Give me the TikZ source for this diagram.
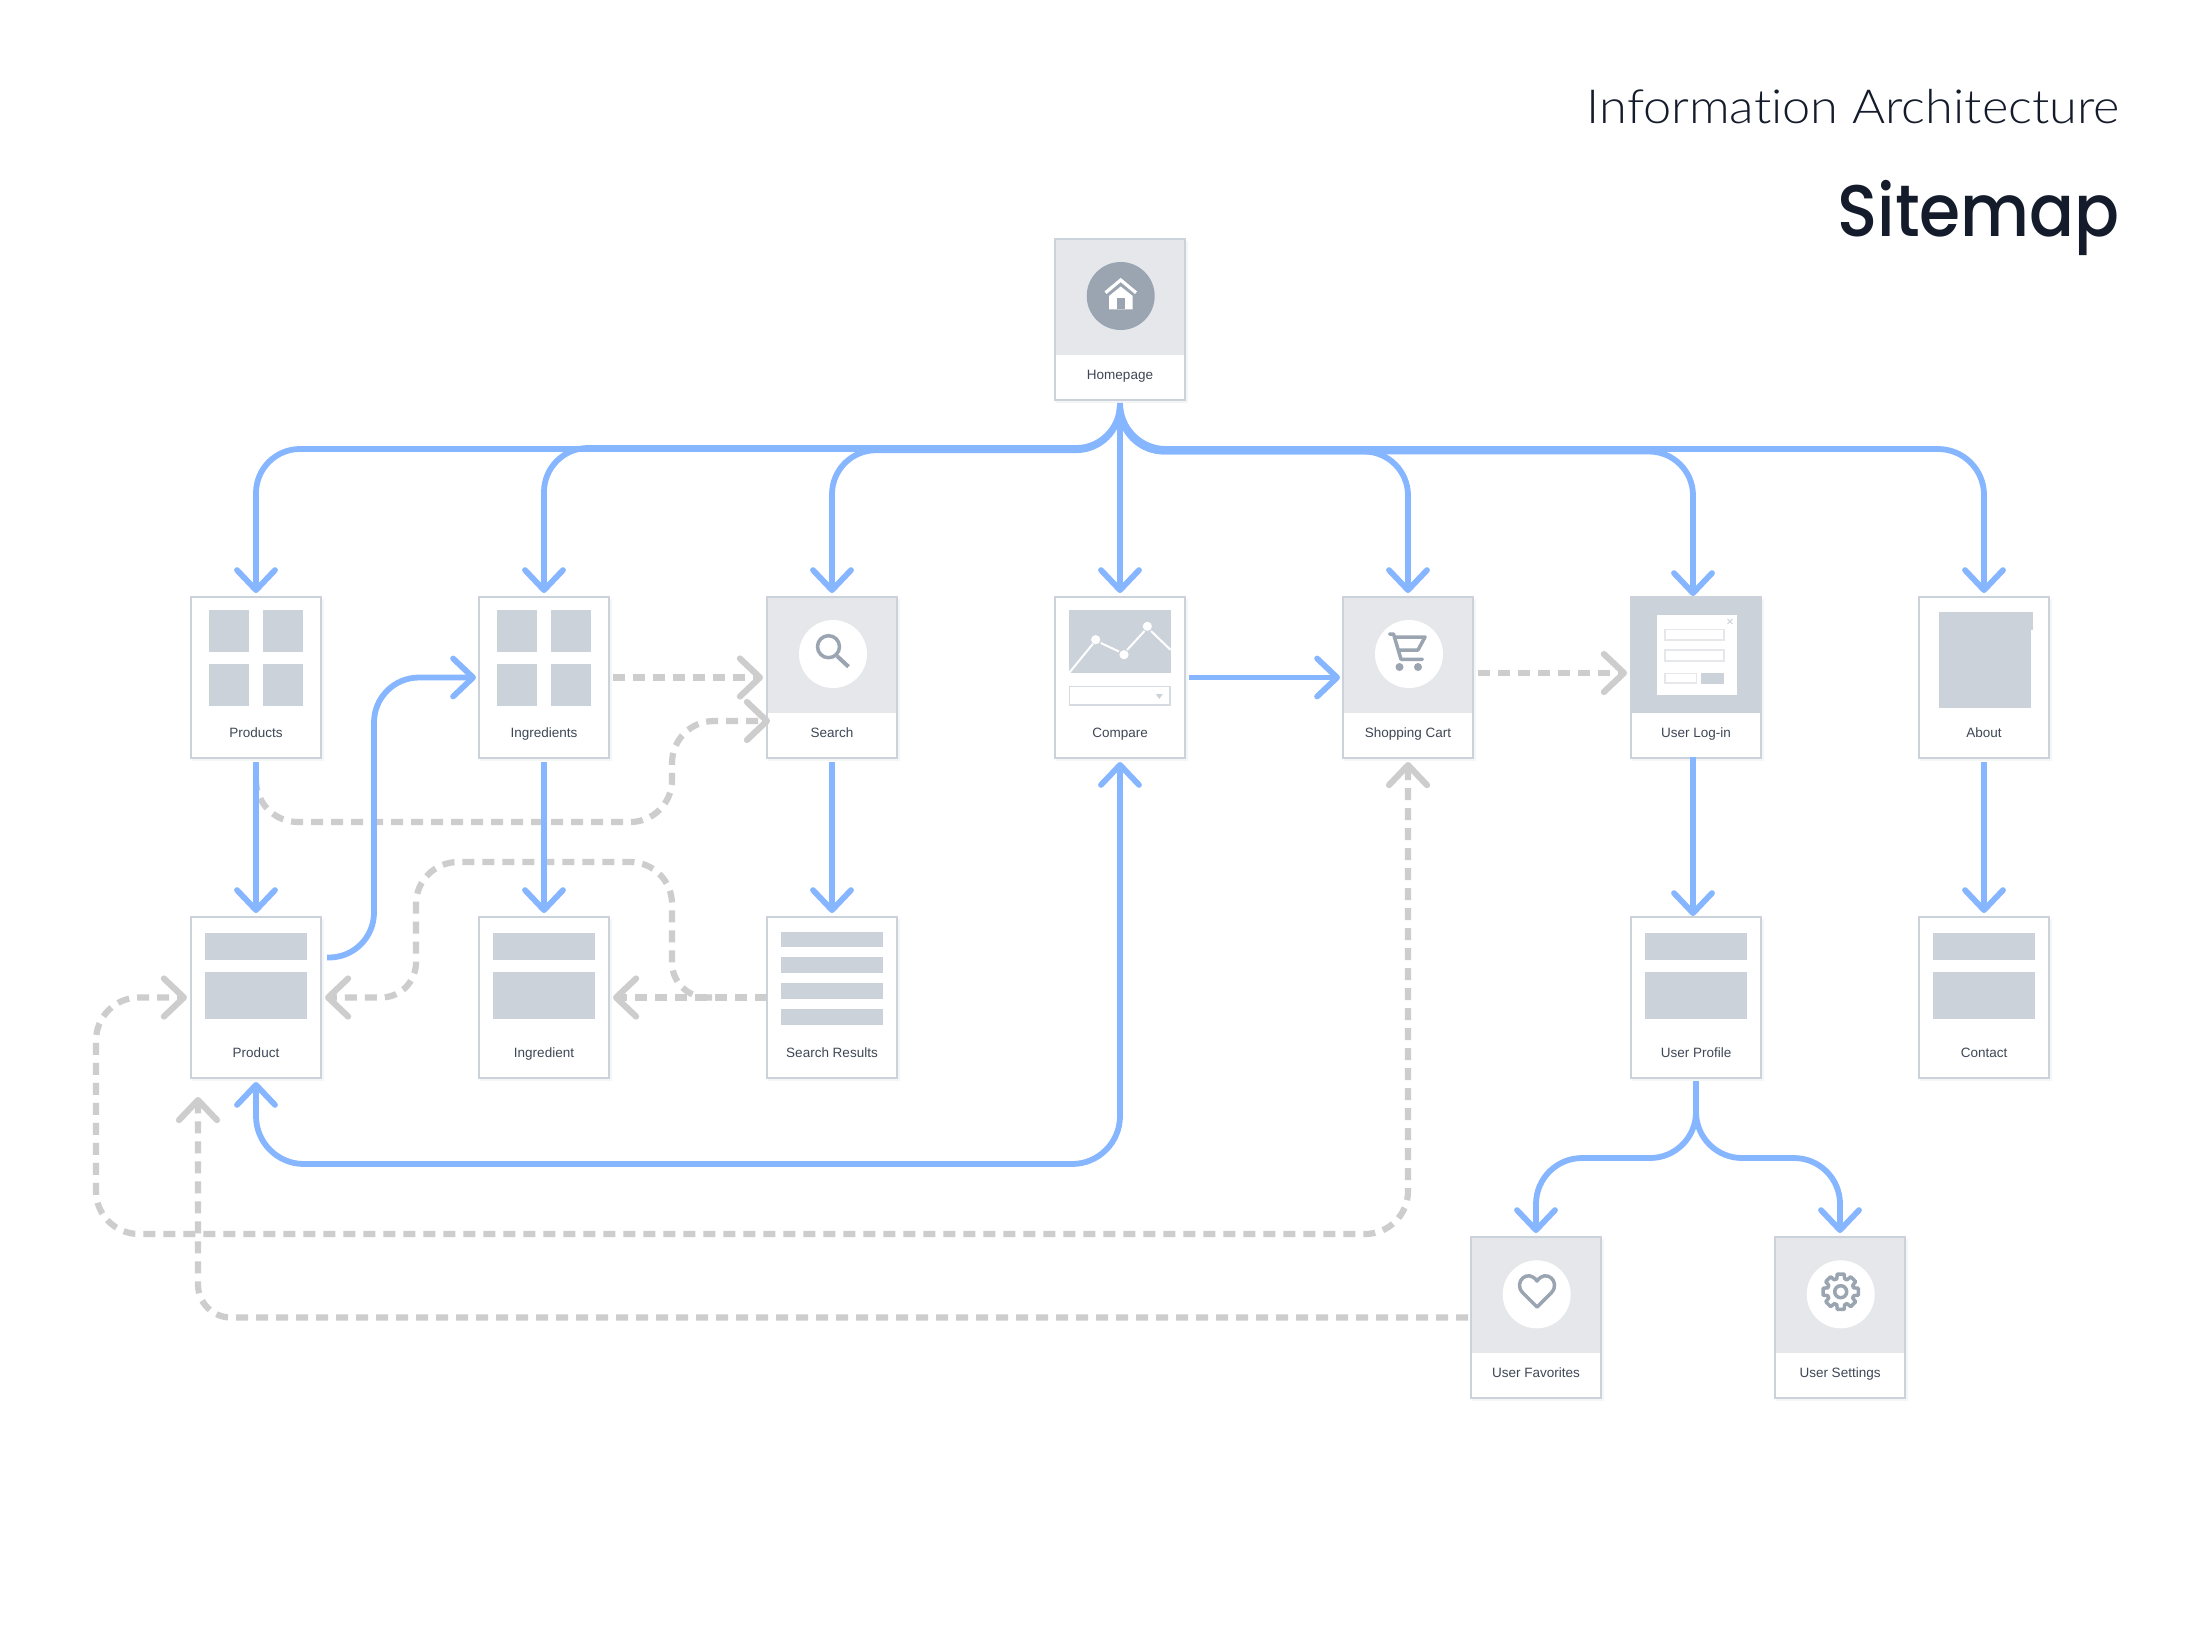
\documentclass[tikz,border=0pt]{standalone}
\usepackage{fontspec}
\setmainfont{Liberation Sans}
\newfontfamily\titlelight[FakeStretch=1.075,Ligatures=NoCommon]{Lato Light}
\newfontfamily\titlebold[FakeStretch=0.91]{Poppins Medium}
\usetikzlibrary{arrows.meta,calc}
\definecolor{cardline}{HTML}{CBD2DB}
\definecolor{headgrey}{HTML}{E5E7EB}
\definecolor{ph}{HTML}{CBD2DA}
\definecolor{iconc}{HTML}{9AA5B1}
\definecolor{flow}{HTML}{85B6FF}
\definecolor{alt}{HTML}{CDCDCD}
\definecolor{labelc}{HTML}{3E4756}
\definecolor{titlec}{HTML}{141B2B}
\tikzset{
  chev/.tip={Straight Barb[length=20pt,width=38pt,line width=5.8pt,round]},
  gchev/.tip={Straight Barb[length=20pt,width=38pt,line width=6.2pt,round]},
  cardbox/.style={draw=cardline,line width=2.5pt,fill=white,minimum width=130pt,minimum height=161pt,inner sep=0pt,outer sep=0pt},
  cardlabel/.style={anchor=base,text=labelc,font=\fontsize{13.5}{16}\selectfont,inner sep=0pt},
  bl/.style={draw=flow,line width=5.8pt},
  gr/.style={draw=alt,line width=6.2pt,dash pattern=on 12pt off 8pt},
  iconline/.style={draw=iconc,line width=3.5pt,line join=round},
  phbox/.style={fill=ph},
  inputbox/.style={draw=headgrey,line width=1.5pt,fill=white},
}
\newcommand{\card}[5]{%
  \fill[black,opacity=.04] (#2-64,#3+3) rectangle (#2+67.5,#3+164.5);
  \node[cardbox] (#1) at (#2,#3+81.5) {};
  \fill[#4] (#2-63.75,#3+2.25) rectangle (#2+63.75,#3+117);
  \node[cardlabel] (#1-t) at (#2,#3+141) {#5};
}
\newcommand{\fourgrid}[2]{%
  \fill[phbox] (#1-47.3,#2+14) rectangle (#1-7,#2+55.7);
  \fill[phbox] (#1+7,#2+14) rectangle (#1+47.3,#2+55.7);
  \fill[phbox] (#1-47.3,#2+68) rectangle (#1-7,#2+110);
  \fill[phbox] (#1+7,#2+68) rectangle (#1+47.3,#2+110);
}
\newcommand{\twobars}[2]{%
  \fill[phbox] (#1-51,#2+17) rectangle (#1+51,#2+44);
  \fill[phbox] (#1-51,#2+56) rectangle (#1+51,#2+103);
}
\begin{document}
\begin{tikzpicture}[x=1pt,y=-1pt]
\path[use as bounding box,fill=white] (0,0) rectangle (2200,1636);

\node[anchor=base east,text=titlec,inner sep=0pt,font=\titlelight\fontsize{47}{50}\selectfont] (t1) at (2120,123) {Information Architecture};
\node[anchor=base east,text=titlec,inner sep=0pt,font=\titlebold\fontsize{73}{76}\selectfont] (t2) at (2120,236) {Sitemap};

% cards
\card{home}{1120}{238}{headgrey}{Homepage}
\card{products}{256}{596}{white}{Products}
\card{ingredients}{544}{596}{white}{Ingredients}
\card{search}{832}{596}{headgrey}{Search}
\card{compare}{1120}{596}{white}{Compare}
\card{cart}{1408}{596}{headgrey}{Shopping Cart}
\card{login}{1696}{596}{ph}{User Log-in}
\card{about}{1984}{596}{white}{About}
\card{product}{256}{916}{white}{Product}
\card{ingredient}{544}{916}{white}{Ingredient}
\card{results}{832}{916}{white}{Search Results}
\card{profile}{1696}{916}{white}{User Profile}
\card{contact}{1984}{916}{white}{Contact}
\card{favorites}{1536}{1236}{headgrey}{User Favorites}
\card{settings}{1840}{1236}{headgrey}{User Settings}

% card artwork
\fill[iconc] (1120.7,296) circle (34);
\draw[white,line width=3.2pt,line join=miter] (1105.5,292.7) -- (1120.7,280) -- (1136,292.7);
\fill[white] (1120.7,286.5) -- (1132.7,296) -- (1132.7,309.3) -- (1109,309.3) -- (1109,296) -- cycle;
\fill[iconc] (1116.7,298) rectangle (1125,309.3);

\fourgrid{256}{596}
\fourgrid{544}{596}

\fill[white] (833,654) circle (34);
\draw[iconline] (828.5,646.7) circle (11);
\draw[iconc,line width=4pt] (837,656) -- (848.5,666.7);

\fill[phbox] (1069,610) rectangle (1170.7,673);
\draw[white,line width=2pt] (1069,673) -- (1093,643.7);
\draw[white,line width=2pt] (1100.7,643) -- (1119,651.5);
\draw[white,line width=2pt] (1127,650) -- (1144.5,631);
\draw[white,line width=2pt] (1151,631) -- (1170.7,650);
\fill[white] (1095.7,639.7) circle (4.6);
\fill[white] (1124,654.7) circle (4.6);
\fill[white] (1147.3,626.3) circle (4.6);
\draw[draw=ph!80!white,line width=1.5pt] (1069.7,686.7) rectangle (1170,705);
\fill[ph] (1155.8,694) -- (1162.8,694) -- (1159.3,699) -- cycle;

\fill[white] (1409,654) circle (34);
\draw[iconline,line cap=round] (1389.5,634) -- (1393.5,634) -- (1401,659.3) -- (1422.4,659.3);
\draw[iconline] (1393.5,637) -- (1425,637) -- (1418,650) -- (1398,650);
\fill[iconc] (1399.5,667) circle (4);
\fill[iconc] (1418,667) circle (4);

\fill[white] (1656.7,615) rectangle (1736.7,695);
\draw[inputbox] (1665,629.3) rectangle (1724,640);
\draw[inputbox] (1665,650) rectangle (1724,661);
\draw[inputbox] (1665,673.3) rectangle (1696.7,683);
\fill[phbox] (1701,672.5) rectangle (1724,683.5);
\draw[ph,line width=1pt] (1727.5,619) -- (1732.5,624) (1727.5,624) -- (1732.5,619);

\fill[phbox] (1938.8,611.7) rectangle (2031,707.7);
\fill[phbox] (2030,611.7) rectangle (2033,630);

\twobars{256}{916}
\twobars{544}{916}
\twobars{1696}{916}
\twobars{1984}{916}

\fill[phbox] (781,931.7) rectangle (882.7,946.7);
\fill[phbox] (781,957.3) rectangle (882.7,972.7);
\fill[phbox] (781,983.3) rectangle (882.7,998.7);
\fill[phbox] (781,1009) rectangle (882.7,1024.7);

\fill[white] (1536.7,1294.3) circle (34);
\draw[iconline] (1537,1307) -- (1522.5,1292.5) .. controls (1513,1282) and (1528,1268) .. (1537,1281) .. controls (1546,1268) and (1561,1282) .. (1551.5,1292.5) -- cycle;

\fill[white] (1840.7,1294.3) circle (34);
\begin{scope}[shift={(1840.7,1291.7)}]
  \draw[iconline] (-11:18) \foreach \a in {0,45,...,315} { -- (\a-11:18) -- (\a+11:18) -- (\a+17:13.5) -- (\a+28:13.5) } -- cycle;
  \draw[iconline] (0,0) circle (6);
\end{scope}

% routing rows
\coordinate (busL) at (0,448);
\coordinate (busM) at (0,450.2);
\coordinate (busR) at (0,449);
\coordinate (busS) at (0,451.5);
\coordinate (low) at (0,822);
\coordinate (high) at (0,862);
\coordinate (vA) at (672,0);
\coordinate (vB) at (416,0);
\coordinate (loopB) at (0,1234);
\coordinate (loopX) at (96,0);
\coordinate (favX) at (198,0);
\coordinate (underP) at (0,1164);
\coordinate (split) at (0,1158);
\coordinate (searchLow) at ($(search.west)+(0,43.5)$);
\coordinate (loginTop) at ($(login.north)+(-3,0)$);
\coordinate (loginBase) at ($(login.south)+(-3,0)$);
\coordinate (profileTop) at ($(profile.north)+(-3,0)$);

% dashed connectors
\draw[gr,-gchev,shorten <=4pt,shorten >=4pt] (ingredients.east) -- (search.west);
\draw[gr,-gchev,shorten <=23pt,rounded corners=42pt,shorten >=-3pt] (products.south) -- (products.south |- low) -- (vA |- low) -- (vA |- searchLow) -- (searchLow);
\draw[gr,-gchev,shorten >=4pt] (results.west) -- (ingredient.east);
\draw[gr,-gchev,shorten <=55pt,shorten >=4pt] (results.west) [rounded corners=35pt] -- (vA |- results.west) [rounded corners=42pt] -- (vA |- high) -- (vB |- high) [rounded corners=35pt] -- (vB |- product.east) -- (product.east);
\draw[gr,gchev-gchev,shorten <=4pt,shorten >=4pt,rounded corners=43pt] (cart.south) -- (cart.south |- loopB) -- (loopX |- loopB) -- (loopX |- product.west) -- (product.west);
\draw[gr,-gchev,shorten <=3pt,shorten >=19pt,rounded corners=33pt] (favorites.west) -- (favX |- favorites.west) -- ($(product.south)+(-58,0)$);
\draw[gr,-gchev,shorten <=5pt,shorten >=4pt] ($(cart.east)+(0,-4.5)$) -- ($(login.west)+(0,-4.5)$);

% solid connectors
\draw[bl,-chev,rounded corners=44pt,shorten <=6pt,shorten >=4pt] (home.south) -- (home.south |- busR) -- (products.north |- busR) -- (products.north);
\draw[bl,-chev,rounded corners=44pt,shorten <=6pt,shorten >=4pt] (home.south) -- (home.south |- busL) -- (ingredients.north |- busL) -- (ingredients.north);
\draw[bl,-chev,rounded corners=44pt,shorten <=6pt,shorten >=4pt] (home.south) -- (home.south |- busM) -- (search.north |- busM) -- (search.north);
\draw[bl,-chev,shorten <=6pt,shorten >=4pt] (home.south) -- (compare.north);
\draw[bl,-chev,rounded corners=44pt,shorten <=6pt,shorten >=4pt] (home.south) -- (home.south |- busS) -- (cart.north |- busS) -- (cart.north);
\draw[bl,-chev,rounded corners=44pt,shorten <=6pt,shorten >=1pt] (home.south) -- (home.south |- busS) -- (loginTop |- busS) -- (loginTop);
\draw[bl,-chev,rounded corners=46pt,shorten <=6pt,shorten >=4pt] (home.south) -- (home.south |- busR) -- (about.north |- busR) -- (about.north);

\draw[bl,-chev,shorten <=4pt,shorten >=4pt] (products.south) -- (product.north);
\draw[bl,-chev,shorten <=4pt,shorten >=4pt] (ingredients.south) -- (ingredient.north);
\draw[bl,-chev,shorten <=4pt,shorten >=4pt] (search.south) -- (results.north);
\draw[bl,-chev,shorten <=-1pt,shorten >=1pt] (loginBase) -- (profileTop);
\draw[bl,-chev,shorten <=4pt,shorten >=4pt] (about.south) -- (contact.north);

\draw[bl,-chev,shorten <=4pt,shorten >=3pt] (compare.east) -- (cart.west);
\draw[bl,-chev,rounded corners=45pt,shorten <=6pt,shorten >=3pt] ($(product.east)+(0,-40)$) -- (374,957.5) -- (374 ,677.5) -- (ingredients.west);
\draw[bl,chev-chev,rounded corners=48pt,shorten <=4pt,shorten >=4pt] (product.south) -- (product.south |- underP) -- (compare.south |- underP) -- (compare.south);

\draw[bl,-chev,rounded corners=46pt,shorten <=3pt,shorten >=4pt] (profile.south) -- (profile.south |- split) -- (favorites.north |- split) -- (favorites.north);
\draw[bl,-chev,rounded corners=46pt,shorten <=3pt,shorten >=4pt] (profile.south) -- (profile.south |- split) -- (settings.north |- split) -- (settings.north);
\end{tikzpicture}
\end{document}
